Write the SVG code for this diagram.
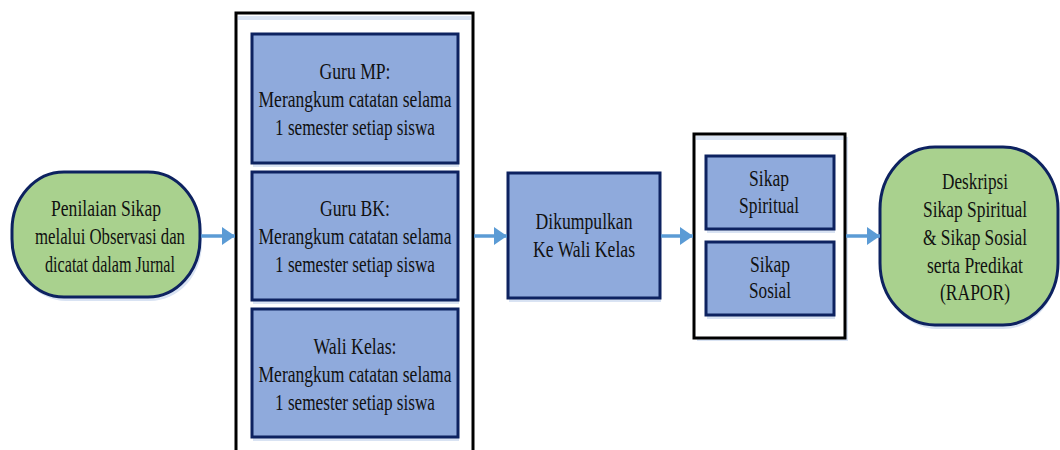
<svg xmlns="http://www.w3.org/2000/svg" width="1060" height="450" viewBox="0 0 1060 450">
<style>
.t{font-family:"Liberation Serif","Times New Roman",serif;font-size:24px;fill:#111;text-anchor:middle}
.green{fill:#a9d18e;stroke:#0d2260;stroke-width:3}
.blue{fill:#8faadc;stroke:#0d2260;stroke-width:3}
.shadow{fill:#d9e3f3}
.frame{fill:#fff;stroke:#000;stroke-width:3}
.conn{stroke:#5b9bd5;stroke-width:3.5;fill:none}
</style>
<defs>
<marker id="ah" markerUnits="userSpaceOnUse" markerWidth="14" markerHeight="18" refX="13" refY="9" orient="auto">
<polygon points="0,0 13,9 0,18" fill="#5b9bd5"/>
</marker>
</defs>
<rect width="1060" height="450" fill="#fff"/>

<g id="frame-guru">
<rect class="frame" x="236" y="13" width="237" height="450"/>
<rect class="shadow" x="238" y="16" width="233" height="4"/>
</g>
<g id="frame-sikap">
<rect class="shadow" x="697" y="137" width="151" height="204"/>
<rect class="frame" x="694" y="134" width="151" height="204"/>
<rect class="shadow" x="696" y="136" width="147" height="4"/>
</g>

<g id="penilaian">
<rect class="shadow" x="14" y="176" width="188" height="125" rx="52" ry="58"/>
<rect class="green" x="12" y="172" width="188" height="125" rx="52" ry="58"/>
<text class="t" x="106" y="216" textLength="110" lengthAdjust="spacingAndGlyphs">Penilaian Sikap</text>
<text class="t" x="110" y="244" textLength="150" lengthAdjust="spacingAndGlyphs">melalui Observasi dan</text>
<text class="t" x="110" y="272" textLength="130" lengthAdjust="spacingAndGlyphs">dicatat dalam Jurnal</text>
</g>

<g id="guru-mp">
<rect class="shadow" x="253" y="37" width="206" height="130"/>
<rect class="blue" x="252" y="34" width="206" height="129"/>
<text class="t" x="355" y="79" textLength="71" lengthAdjust="spacingAndGlyphs">Guru MP:</text>
<text class="t" x="355" y="107" textLength="193" lengthAdjust="spacingAndGlyphs">Merangkum catatan selama</text>
<text class="t" x="355" y="135" textLength="160" lengthAdjust="spacingAndGlyphs">1 semester setiap siswa</text>
</g>

<g id="guru-bk">
<rect class="shadow" x="253" y="175" width="206" height="129"/>
<rect class="blue" x="252" y="172" width="206" height="128"/>
<text class="t" x="355" y="216" textLength="70" lengthAdjust="spacingAndGlyphs">Guru BK:</text>
<text class="t" x="355" y="244" textLength="193" lengthAdjust="spacingAndGlyphs">Merangkum catatan selama</text>
<text class="t" x="355" y="272" textLength="160" lengthAdjust="spacingAndGlyphs">1 semester setiap siswa</text>
</g>

<g id="wali-kelas">
<rect class="shadow" x="253" y="312" width="206" height="129"/>
<rect class="blue" x="252" y="309" width="206" height="128"/>
<text class="t" x="355" y="354" textLength="83" lengthAdjust="spacingAndGlyphs">Wali Kelas:</text>
<text class="t" x="355" y="382" textLength="193" lengthAdjust="spacingAndGlyphs">Merangkum catatan selama</text>
<text class="t" x="355" y="410" textLength="160" lengthAdjust="spacingAndGlyphs">1 semester setiap siswa</text>
</g>

<g id="dikumpulkan">
<rect class="shadow" x="509" y="176" width="152" height="126"/>
<rect class="blue" x="508" y="173" width="152" height="125"/>
<text class="t" x="584" y="229" textLength="97" lengthAdjust="spacingAndGlyphs">Dikumpulkan</text>
<text class="t" x="584" y="257" textLength="102" lengthAdjust="spacingAndGlyphs">Ke Wali Kelas</text>
</g>

<g id="sikap-spiritual">
<rect class="shadow" x="707" y="159" width="128" height="74"/>
<rect class="blue" x="706" y="156" width="128" height="73"/>
<text class="t" x="769" y="186" textLength="40" lengthAdjust="spacingAndGlyphs">Sikap</text>
<text class="t" x="769" y="213" textLength="60" lengthAdjust="spacingAndGlyphs">Spiritual</text>
</g>

<g id="sikap-sosial">
<rect class="shadow" x="707" y="245" width="128" height="74"/>
<rect class="blue" x="706" y="242" width="128" height="73"/>
<text class="t" x="770" y="272" textLength="40" lengthAdjust="spacingAndGlyphs">Sikap</text>
<text class="t" x="770" y="298" textLength="42" lengthAdjust="spacingAndGlyphs">Sosial</text>
</g>

<g id="deskripsi">
<rect class="shadow" x="882" y="151" width="176" height="178" rx="55" ry="62"/>
<rect class="green" x="880" y="147" width="178" height="178" rx="55" ry="62"/>
<text class="t" x="975" y="189" textLength="66" lengthAdjust="spacingAndGlyphs">Deskripsi</text>
<text class="t" x="975" y="217" textLength="104" lengthAdjust="spacingAndGlyphs">Sikap Spiritual</text>
<text class="t" x="975" y="245" textLength="104" lengthAdjust="spacingAndGlyphs">&amp; Sikap Sosial</text>
<text class="t" x="975" y="273" textLength="96" lengthAdjust="spacingAndGlyphs">serta Predikat</text>
<text class="t" x="975" y="300" textLength="70" lengthAdjust="spacingAndGlyphs">(RAPOR)</text>
</g>

<g id="connectors">
<line class="conn" x1="201" y1="236" x2="235" y2="236" marker-end="url(#ah)"/>
<line class="conn" x1="474" y1="236" x2="507" y2="236" marker-end="url(#ah)"/>
<line class="conn" x1="661" y1="236" x2="693" y2="236" marker-end="url(#ah)"/>
<line class="conn" x1="846" y1="236" x2="880" y2="236" marker-end="url(#ah)"/>
</g>
</svg>
